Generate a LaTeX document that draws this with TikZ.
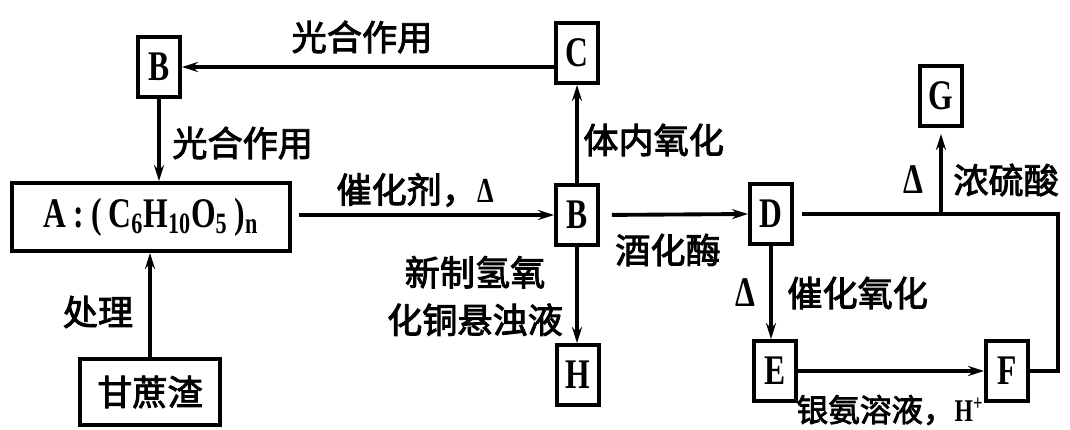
\documentclass[tikz,border=0pt]{standalone}
\usepackage{fontspec}
\setmainfont{Liberation Serif}
\newfontfamily\cjk{Noto Sans CJK SC}[FakeBold=2.5]
\newfontfamily\boxfont{Liberation Serif}[FakeStretch=0.75]
\usetikzlibrary{arrows.meta}
\begin{document}
\begin{tikzpicture}[x=0.02cm,y=-0.02cm,
  lbox/.style={draw, line width=2.2pt, minimum width=0.84cm, minimum height=1.2cm, inner sep=0pt,
    font=\boxfont\bfseries\fontsize{24}{24}\selectfont},
  conn/.style={line width=2.2pt},
  arr/.style={conn, -{Stealth[length=0.32cm,width=0.2cm]}},
  lab/.style={font=\cjk\fontsize{20}{27}\selectfont, inner sep=0pt},
  dlt/.style={font=\boxfont\bfseries\fontsize{24}{24}\selectfont, inner sep=0pt}]
\useasboundingbox (0,0) rectangle (1070,429);
\fill[white] (0,0) rectangle (1070,429);
% nodes
\node[lbox] (B1) at (159,67) {B};
\node[lbox] (C) at (577,53) {C};
\node[lbox, minimum width=5.56cm, minimum height=1.36cm] (A) at (151,217)
  {A\,:\,(\,C\textsubscript{6}H\textsubscript{10}O\textsubscript{5}\,)\textsubscript{n}};
\node[lbox, minimum width=2.8cm, minimum height=1.32cm, font=\cjk\fontsize{20}{24}\selectfont] (S) at (150,392) {甘蔗渣};
\node[lbox] (B2) at (577,215) {B};
\node[lbox] (H) at (578,375) {H};
\node[lbox] (D) at (771,214) {D};
\node[lbox] (G) at (941,96) {G};
\node[lbox] (E) at (775,371) {E};
\node[lbox] (F) at (1007,371) {F};
\coordinate (R) at (1058,290);
% connectors
\draw[arr] (C.west |- B1) -- (B1.east);
\node[lab] (l1) at (362,37) {光合作用};
\draw[arr] (B1.south) -- (B1.south |- A.north);
\node[lab, anchor=west] (l2) at (172,143) {光合作用};
\draw[arr] (S.north) -- (S.north |- A.south);
\node[lab] (l3) at (98,312) {处理};
\draw[arr, shorten <=0.14cm] (A.east |- B2.west) -- (B2.west);
\node[lab] (l4) at (415,190) {催化剂，{\boxfont\bfseries Δ}};
\draw[arr] (B2.north) -- (B2.north |- C.south);
\node[lab, anchor=west] (l5) at (583,140) {体内氧化};
\draw[arr] (B2.south) -- (B2.south |- H.north);
\node[lab, align=center] (l6) at (475,296) {新制氢氧\\化铜悬浊液};
\draw[arr, shorten <=0.24cm] (B2.east) -- (D.west);
\node[lab] (l7) at (668,250) {酒化酶};
\draw[arr] (D.south) -- (D.south |- E.north);
\node[dlt] (l8) at (745,293) {Δ};
\node[lab, anchor=west] (l9) at (787,293) {催化氧化};
\draw[arr] (E.east) -- (F.west);
\node[lab, font=\cjk\fontsize{18}{20}\selectfont] (l10) at (890,410) {银氨溶液，{\boxfont\bfseries H\textsuperscript{+}}};
\draw[conn] ([xshift=0.16cm]D.east) -- (D.east -| R) -- (F.east -| R) -- (F.east);
\draw[arr, shorten >=0.12cm] (D.east -| G.south) -- (G.south);
\node[dlt] (l11) at (913,180) {Δ};
\node[lab, anchor=west] (l12) at (953,180) {浓硫酸};
\end{tikzpicture}
\end{document}
